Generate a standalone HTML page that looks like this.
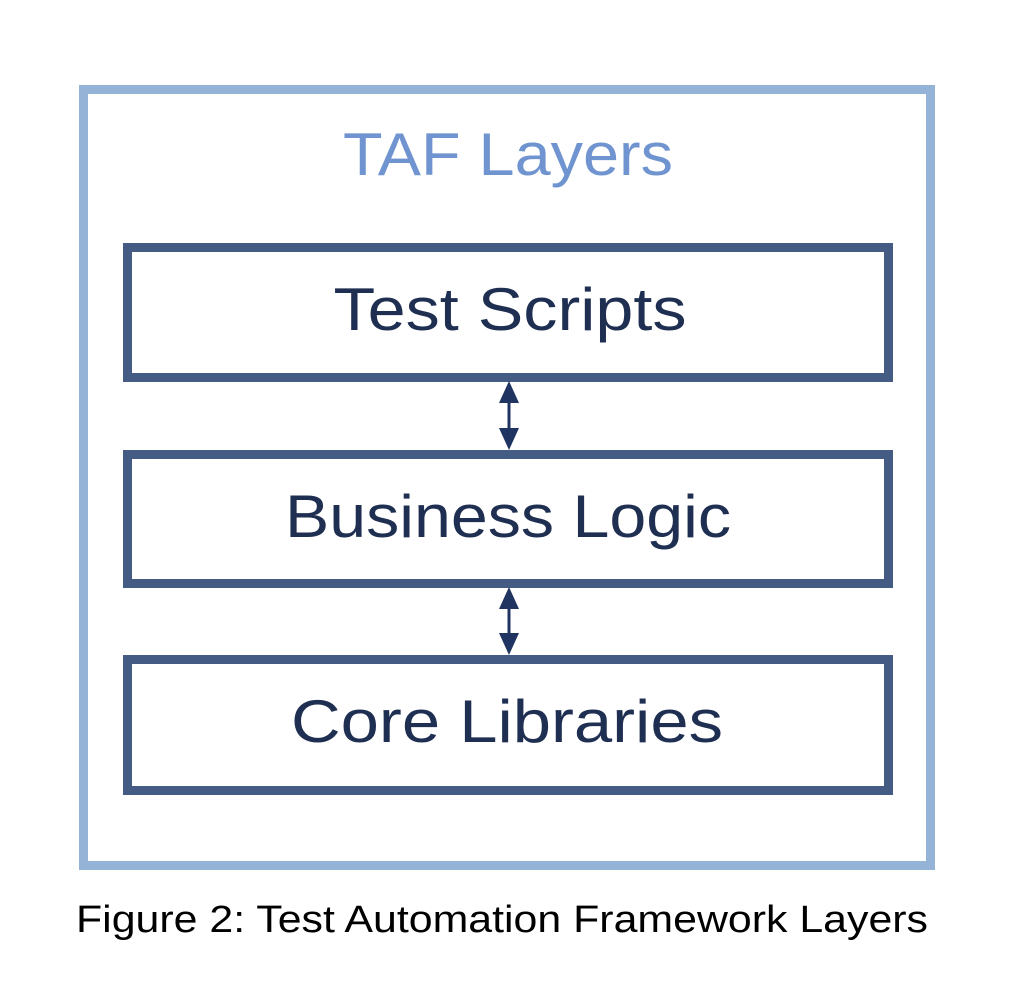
<!DOCTYPE html>
<html><head><style>html,body{margin:0;padding:0;background:#fff;}</style></head>
<body>
<svg width="1026" height="998" xmlns="http://www.w3.org/2000/svg" font-family="Liberation Sans, sans-serif">
<rect x="83.5" y="89.5" width="847" height="776" fill="none" stroke="#95b3d7" stroke-width="9"/>
<text x="508" y="175" text-anchor="middle" font-size="60" fill="#6f94d0" textLength="330" lengthAdjust="spacingAndGlyphs">TAF Layers</text>
<rect x="127.5" y="247.5" width="761" height="130" fill="none" stroke="#445c83" stroke-width="9"/>
<rect x="127.5" y="454.5" width="761" height="129" fill="none" stroke="#445c83" stroke-width="9"/>
<rect x="127.5" y="659.5" width="761" height="131" fill="none" stroke="#445c83" stroke-width="9"/>
<text x="510" y="330" text-anchor="middle" font-size="60" fill="#1f2f52" textLength="353" lengthAdjust="spacingAndGlyphs">Test Scripts</text>
<text x="508" y="537" text-anchor="middle" font-size="60" fill="#1f2f52" textLength="446" lengthAdjust="spacingAndGlyphs">Business Logic</text>
<text x="507" y="742" text-anchor="middle" font-size="60" fill="#1f2f52" textLength="432" lengthAdjust="spacingAndGlyphs">Core Libraries</text>
<g fill="#1f3460" stroke="#1f3460">
<line x1="509" y1="392" x2="509" y2="440" stroke-width="3"/>
<polygon points="509,381 499,403 519,403" stroke="none"/>
<polygon points="509,450 499,428 519,428" stroke="none"/>
<line x1="509" y1="598" x2="509" y2="645" stroke-width="3"/>
<polygon points="509,587 499,609 519,609" stroke="none"/>
<polygon points="509,655 499,633 519,633" stroke="none"/>
</g>
<text x="76" y="932" font-size="38" fill="#000" textLength="852" lengthAdjust="spacingAndGlyphs">Figure 2: Test Automation Framework Layers</text>
</svg>
</body></html>
